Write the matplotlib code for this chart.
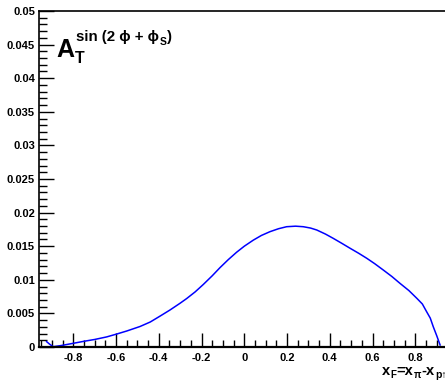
import numpy as np
import matplotlib
matplotlib.use('Agg')
from matplotlib import pyplot as plt
from matplotlib.ticker import MultipleLocator, FormatStrFormatter

# curve
xf = [-0.925, -0.91, -0.894, -0.86, -0.80, -0.75, -0.70, -0.644, -0.60, -0.55,
      -0.488, -0.44, -0.394, -0.348, -0.301, -0.270, -0.23, -0.192, -0.15, -0.114,
      -0.075, -0.036, 0.0, 0.042, 0.08, 0.120, 0.16, 0.198, 0.24, 0.276, 0.31,
      0.339, 0.38, 0.416, 0.455, 0.495, 0.535, 0.573, 0.61, 0.650, 0.69, 0.728,
      0.77, 0.807, 0.833, 0.853, 0.87, 0.884, 0.90, 0.916]
asym = [0.0008, 0.0004, 0.00005, 0.0002, 0.00055, 0.00085, 0.00112, 0.0015, 0.0019, 0.00238,
        0.00305, 0.00372, 0.0046, 0.0055, 0.0065, 0.0072, 0.0082, 0.0093, 0.0106, 0.0118,
        0.0130, 0.0141, 0.0150, 0.0159, 0.0166, 0.01716, 0.0176, 0.0179, 0.01798, 0.0179, 0.0177,
        0.01741, 0.0168, 0.01617, 0.01545, 0.01469, 0.01395, 0.0132, 0.0124, 0.01146, 0.0105, 0.00948,
        0.0084, 0.00725, 0.0064, 0.00525, 0.0043, 0.00302, 0.0017, 0.0003]

W, H = 445, 383
fig = plt.figure(figsize=(W / 100, H / 100), dpi=100)
plt.rcParams['font.family'] = ['Liberation Sans', 'DejaVu Sans']

def fx(px):
    return px / W

def fy(py):
    return 1 - py / H

ax = fig.add_axes([fx(39.1), fy(347), fx(410.4), fy(11) - fy(347)])
ax.plot(xf, asym, color='#0000ff', lw=1.1)
ax.set_xlim(-0.96, 0.96)
ax.set_ylim(0, 0.05)

ax.xaxis.set_major_locator(MultipleLocator(0.2))
ax.xaxis.set_minor_locator(MultipleLocator(0.05))
ax.yaxis.set_major_locator(MultipleLocator(0.005))
ax.yaxis.set_minor_locator(MultipleLocator(0.001))
ax.xaxis.set_major_formatter(FormatStrFormatter('%g'))
ax.yaxis.set_major_formatter(FormatStrFormatter('%g'))

ax.tick_params(axis='both', which='both', direction='in', top=False, right=False,
               width=1, labelsize=8, colors='black')
ax.tick_params(axis='x', which='major', length=10, pad=4)
ax.tick_params(axis='x', which='minor', length=5)
ax.tick_params(axis='y', which='major', length=11, pad=3)
ax.tick_params(axis='y', which='minor', length=5.5)
for lab in ax.get_xticklabels() + ax.get_yticklabels():
    lab.set_fontweight('bold')
for s in ax.spines.values():
    s.set_linewidth(1.2)
ax.spines['bottom'].set_linewidth(1.6)

renderer = fig.canvas.get_renderer()

def chain(x, y, parts):
    """Writes pieces one after another; each part is (text, size, baseline shift in px)."""
    for s, size, dy in parts:
        t = fig.text(fx(x), fy(y + dy), s, fontsize=size, fontweight='bold',
                     ha='left', va='baseline')
        x += t.get_window_extent(renderer).width + 0.5

# title-like label in the upper left
fig.text(fx(56.5), fy(56.7), 'A', fontsize=18, fontweight='bold', ha='left', va='baseline')
fig.text(fx(75), fy(63.3), 'T', fontsize=11.5, fontweight='bold', ha='left', va='baseline')
chain(76.5, 41.5, [('sin (2 \u03d5 + \u03d5', 10.8, 0), ('S', 7.5, 3.5), (')', 10.8, 0)])

# x axis label, cut at the right edge as in the reference
chain(381.5, 375, [('x', 10.5, 0), ('F', 7, 3), ('=x', 10.5, 0), ('\u03c0', 7, 2.5),
                   ('-x', 10.5, 0), ('p\u2191', 7.5, 2.5)])

fig.savefig('out.png', dpi=100)
